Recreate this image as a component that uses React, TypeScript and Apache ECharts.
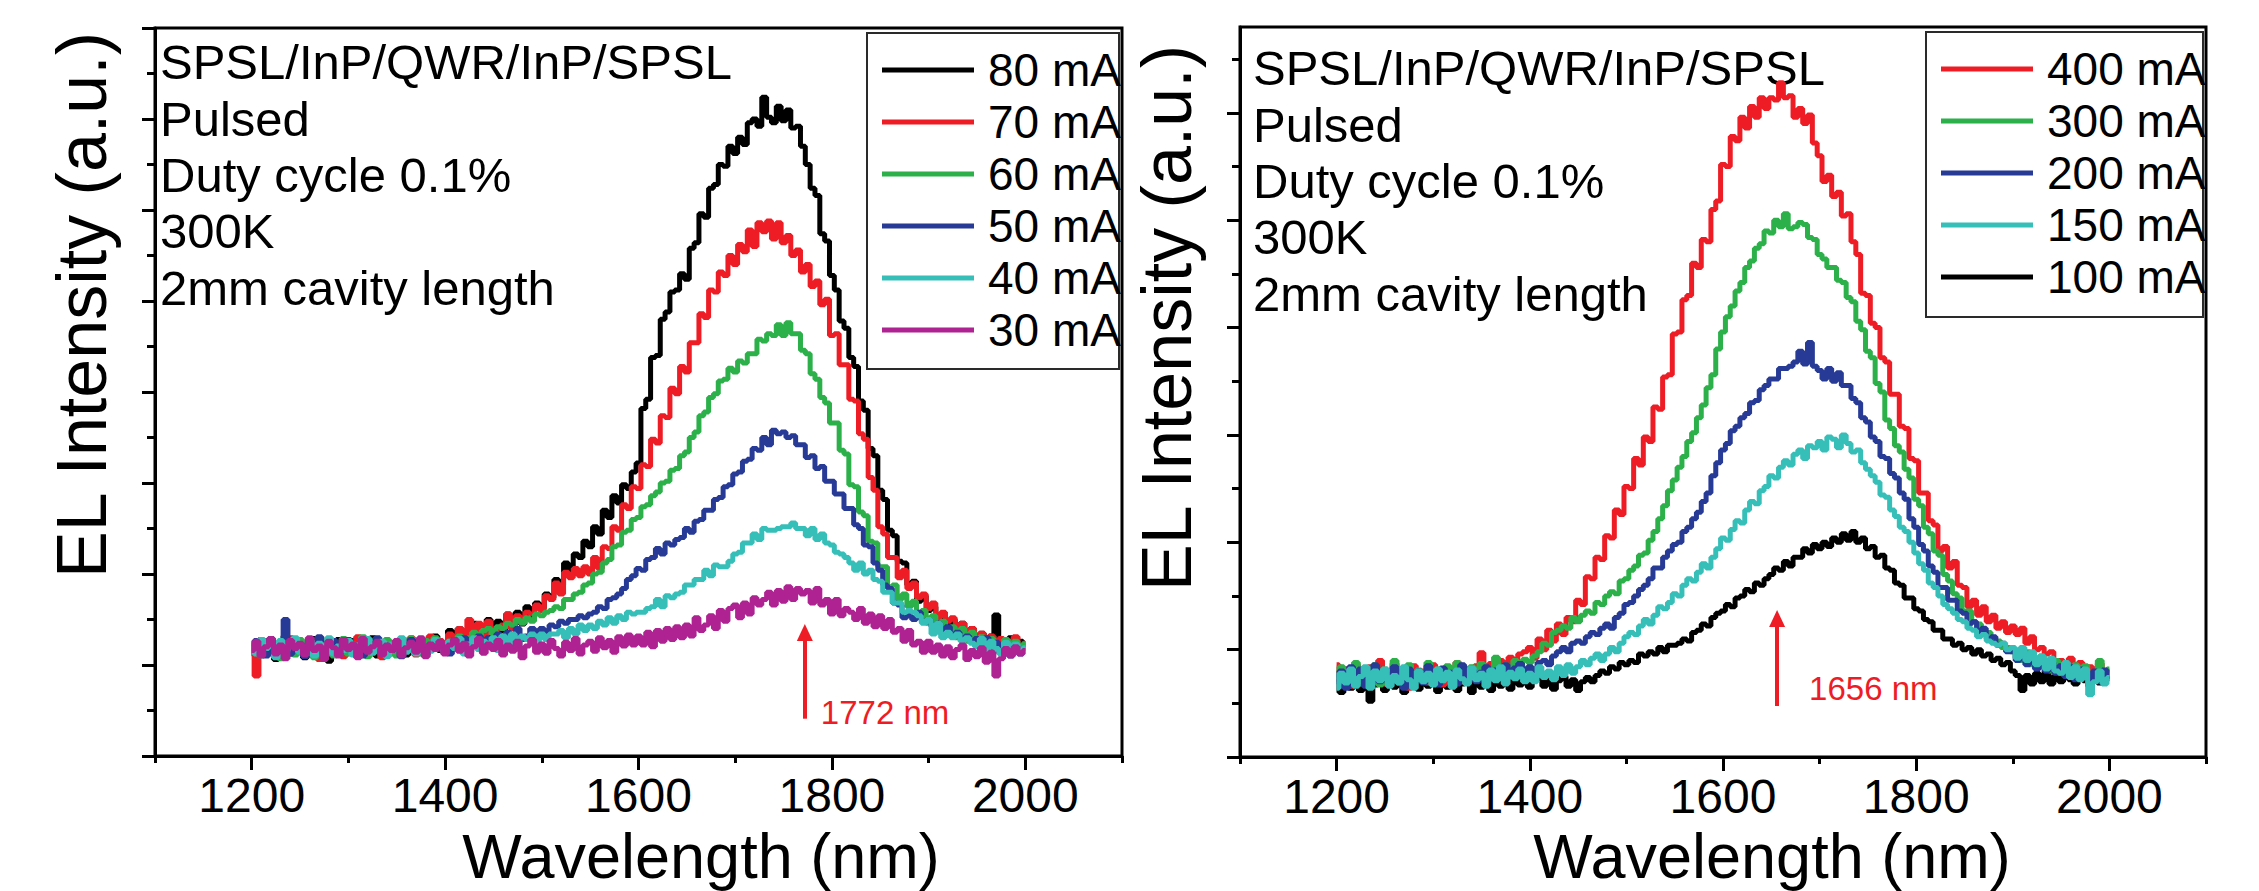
import { useEffect, useRef } from 'react';
import * as echarts from 'echarts';

// Spectra are sampled every 5 nm from 1200 nm to 2000 nm.
const LAMBDA_START = 1200;
const LAMBDA_STEP = 5;

// ---- Left panel: 2 mm cavity, low drive currents ----
const LEFT_NAMES = ['80 mA', '70 mA', '60 mA', '50 mA', '40 mA', '30 mA'];

const L_80MA = [
  1.22, 1.10, 1.28, 1.15, 1.20, 1.06, 1.25, 1.32, 1.12, 1.18,
  1.26, 1.08, 1.20, 1.29, 1.13, 1.19, 1.04, 1.22, 1.28, 1.12,
  1.18, 1.27, 1.09, 1.21, 1.16, 1.30, 1.10, 1.20, 1.26, 1.13,
  1.19, 1.29, 1.11, 1.22, 1.15, 1.28, 1.12, 1.23, 1.32, 1.16,
  1.24, 1.38, 1.18, 1.40, 1.26, 1.36, 1.46, 1.28, 1.42, 1.50,
  1.32, 1.48, 1.38, 1.56, 1.40, 1.58, 1.45, 1.64, 1.52, 1.68,
  1.62, 1.78, 1.74, 1.94, 1.88, 2.12, 1.98, 2.22, 2.18, 2.36,
  2.30, 2.52, 2.44, 2.70, 2.62, 2.86, 2.78, 2.98, 2.94, 3.12,
  3.22, 3.82, 3.92, 4.38, 4.40, 4.80, 4.88, 5.10, 5.12, 5.30,
  5.24, 5.58, 5.64, 5.96, 5.92, 6.24, 6.28, 6.50, 6.48, 6.70,
  6.62, 6.80, 6.72, 6.96, 7.00, 6.92, 7.24, 7.02, 6.96, 7.14,
  6.98, 7.10, 6.90, 6.92, 6.70, 6.50, 6.24, 6.16, 5.74, 5.66,
  5.28, 5.12, 4.78, 4.70, 4.38, 4.28, 3.90, 3.80, 3.38, 3.30,
  2.92, 2.82, 2.48, 2.42, 2.14, 2.12, 1.88, 1.92, 1.70, 1.76,
  1.60, 1.64, 1.48, 1.56, 1.44, 1.50, 1.32, 1.46, 1.28, 1.40,
  1.26, 1.35, 1.22, 1.32, 1.55, 1.24, 1.18, 1.30, 1.16, 1.26,
  1.22,
];

const L_70MA = [
  1.20, 0.88, 1.22, 1.12, 1.28, 1.17, 1.08, 1.23, 1.30, 1.14,
  1.19, 1.10, 1.27, 1.18, 1.06, 1.22, 1.29, 1.15, 1.20, 1.09,
  1.24, 1.15, 1.31, 1.12, 1.21, 1.17, 1.28, 1.08, 1.22, 1.19,
  1.13, 1.27, 1.20, 1.30, 1.11, 1.22, 1.16, 1.32, 1.20, 1.27,
  1.22, 1.34, 1.20, 1.40, 1.26, 1.50, 1.30, 1.46, 1.32, 1.48,
  1.34, 1.40, 1.44, 1.56, 1.40, 1.54, 1.50, 1.58, 1.56, 1.66,
  1.60, 1.76, 1.72, 1.90, 1.78, 2.02, 1.96, 2.06, 1.98, 2.08,
  2.00, 2.18, 2.06, 2.30, 2.28, 2.52, 2.48, 2.76, 2.72, 2.96,
  2.94, 3.20, 3.18, 3.48, 3.44, 3.74, 3.72, 4.04, 3.98, 4.28,
  4.22, 4.54, 4.54, 4.86, 4.82, 5.12, 5.10, 5.32, 5.28, 5.50,
  5.40, 5.62, 5.54, 5.78, 5.60, 5.86, 5.76, 5.88, 5.68, 5.86,
  5.64, 5.72, 5.50, 5.56, 5.32, 5.40, 5.16, 5.22, 4.96, 5.02,
  4.62, 4.64, 4.30, 4.30, 3.92, 3.90, 3.54, 3.48, 3.06, 2.92,
  2.52, 2.44, 2.18, 2.18, 1.96, 2.04, 1.84, 1.90, 1.74, 1.78,
  1.62, 1.68, 1.52, 1.58, 1.48, 1.52, 1.40, 1.46, 1.36, 1.40,
  1.28, 1.35, 1.24, 1.32, 1.20, 1.29, 1.18, 1.26, 1.31, 1.16,
  1.24,
];

const L_60MA = [
  1.18, 1.26, 1.10, 1.27, 1.14, 1.21, 1.07, 1.25, 1.19, 1.11,
  1.28, 1.14, 1.22, 1.08, 1.30, 1.18, 1.24, 1.10, 1.20, 1.29,
  1.12, 1.23, 1.16, 1.31, 1.09, 1.25, 1.19, 1.13, 1.28, 1.20,
  1.10, 1.24, 1.17, 1.29, 1.21, 1.12, 1.27, 1.18, 1.30, 1.21,
  1.17, 1.26, 1.22, 1.32, 1.26, 1.30, 1.36, 1.30, 1.38, 1.40,
  1.34, 1.42, 1.40, 1.46, 1.44, 1.50, 1.46, 1.52, 1.48, 1.56,
  1.54, 1.58, 1.60, 1.64, 1.62, 1.72, 1.72, 1.78, 1.80, 1.88,
  1.90, 2.00, 2.02, 2.12, 2.16, 2.30, 2.32, 2.46, 2.48, 2.60,
  2.62, 2.74, 2.76, 2.86, 2.90, 3.00, 3.02, 3.14, 3.16, 3.30,
  3.34, 3.50, 3.56, 3.74, 3.78, 3.94, 3.98, 4.12, 4.14, 4.26,
  4.22, 4.34, 4.32, 4.42, 4.42, 4.58, 4.56, 4.64, 4.62, 4.74,
  4.62, 4.76, 4.64, 4.64, 4.46, 4.42, 4.20, 4.14, 3.94, 3.88,
  3.66, 3.66, 3.36, 3.32, 2.98, 2.96, 2.68, 2.64, 2.36, 2.34,
  2.08, 2.08, 1.86, 1.88, 1.72, 1.78, 1.64, 1.70, 1.54, 1.60,
  1.46, 1.54, 1.40, 1.48, 1.34, 1.42, 1.30, 1.40, 1.26, 1.36,
  1.24, 1.31, 1.20, 1.29, 1.22, 1.17, 1.28, 1.19, 1.26, 1.16,
  1.23,
];

const L_50MA = [
  1.15, 1.27, 1.20, 1.10, 1.29, 1.18, 1.22, 1.50, 1.12, 1.26,
  1.19, 1.09, 1.25, 1.16, 1.31, 1.12, 1.21, 1.27, 1.13, 1.22,
  1.28, 1.14, 1.20, 1.10, 1.26, 1.19, 1.30, 1.12, 1.22, 1.16,
  1.25, 1.09, 1.21, 1.28, 1.15, 1.23, 1.11, 1.20, 1.27, 1.17,
  1.22, 1.12, 1.28, 1.18, 1.30, 1.14, 1.26, 1.32, 1.18, 1.30,
  1.20, 1.34, 1.24, 1.36, 1.26, 1.40, 1.28, 1.32, 1.40, 1.28,
  1.40, 1.36, 1.44, 1.42, 1.48, 1.46, 1.50, 1.50, 1.54, 1.52,
  1.56, 1.58, 1.64, 1.62, 1.72, 1.74, 1.78, 1.84, 1.94, 1.98,
  2.06, 2.04, 2.16, 2.18, 2.28, 2.22, 2.34, 2.32, 2.38, 2.40,
  2.50, 2.46, 2.58, 2.60, 2.70, 2.70, 2.82, 2.84, 2.96, 2.98,
  3.10, 3.12, 3.24, 3.26, 3.38, 3.36, 3.50, 3.42, 3.58, 3.54,
  3.56, 3.50, 3.52, 3.42, 3.42, 3.28, 3.30, 3.16, 3.18, 3.02,
  3.02, 2.88, 2.88, 2.72, 2.72, 2.54, 2.50, 2.32, 2.30, 2.12,
  2.04, 1.88, 1.84, 1.68, 1.66, 1.52, 1.54, 1.50, 1.58, 1.48,
  1.50, 1.42, 1.46, 1.34, 1.42, 1.32, 1.36, 1.30, 1.32, 1.26,
  1.29, 1.20, 1.30, 1.16, 1.25, 1.13, 1.22, 1.10, 1.20, 1.12,
  1.16,
];

const L_40MA = [
  1.21, 1.12, 1.28, 1.18, 1.24, 1.08, 1.27, 1.15, 1.22, 1.30,
  1.14, 1.20, 1.27, 1.10, 1.24, 1.18, 1.30, 1.12, 1.21, 1.16,
  1.27, 1.11, 1.22, 1.17, 1.29, 1.13, 1.20, 1.26, 1.09, 1.23,
  1.18, 1.30, 1.14, 1.22, 1.12, 1.26, 1.19, 1.15, 1.28, 1.21,
  1.14, 1.26, 1.18, 1.29, 1.12, 1.23, 1.30, 1.17, 1.26, 1.20,
  1.30, 1.16, 1.32, 1.20, 1.34, 1.22, 1.32, 1.28, 1.34, 1.24,
  1.34, 1.28, 1.34, 1.34, 1.38, 1.30, 1.40, 1.34, 1.44, 1.38,
  1.44, 1.40, 1.48, 1.44, 1.52, 1.46, 1.54, 1.50, 1.58, 1.56,
  1.58, 1.58, 1.62, 1.64, 1.72, 1.64, 1.76, 1.74, 1.78, 1.80,
  1.88, 1.88, 1.94, 1.94, 2.04, 1.98, 2.10, 2.08, 2.08, 2.14,
  2.22, 2.24, 2.34, 2.34, 2.44, 2.38, 2.50, 2.48, 2.48, 2.50,
  2.52, 2.52, 2.56, 2.50, 2.50, 2.42, 2.50, 2.38, 2.44, 2.34,
  2.32, 2.24, 2.22, 2.18, 2.12, 2.04, 2.12, 2.00, 2.04, 1.94,
  1.92, 1.80, 1.80, 1.68, 1.68, 1.58, 1.60, 1.58, 1.54, 1.46,
  1.50, 1.34, 1.46, 1.30, 1.36, 1.30, 1.34, 1.26, 1.30, 1.24,
  1.20, 1.29, 1.16, 1.26, 1.18, 1.12, 1.25, 1.15, 1.23, 1.13,
  1.19,
];

const L_30MA = [
  1.16, 1.26, 1.10, 1.20, 1.29, 1.12, 1.22, 1.07, 1.27, 1.18,
  1.24, 1.11, 1.30, 1.16, 1.21, 1.06, 1.26, 1.19, 1.10, 1.28,
  1.17, 1.23, 1.08, 1.29, 1.14, 1.20, 1.26, 1.11, 1.22, 1.16,
  1.27, 1.10, 1.19, 1.25, 1.14, 1.30, 1.09, 1.23, 1.17, 1.26,
  1.12, 1.22, 1.28, 1.15, 1.24, 1.10, 1.20, 1.29, 1.13, 1.23,
  1.17, 1.27, 1.11, 1.22, 1.15, 1.26, 1.08, 1.21, 1.28, 1.14,
  1.23, 1.13, 1.27, 1.18, 1.10, 1.25, 1.16, 1.29, 1.12, 1.22,
  1.26, 1.15, 1.30, 1.19, 1.27, 1.14, 1.31, 1.21, 1.33, 1.22,
  1.32, 1.22, 1.36, 1.20, 1.38, 1.26, 1.40, 1.28, 1.42, 1.30,
  1.44, 1.32, 1.52, 1.38, 1.44, 1.54, 1.40, 1.60, 1.48, 1.62,
  1.66, 1.52, 1.68, 1.56, 1.74, 1.66, 1.72, 1.80, 1.66, 1.82,
  1.70, 1.86, 1.72, 1.84, 1.78, 1.82, 1.68, 1.84, 1.66, 1.72,
  1.56, 1.72, 1.54, 1.62, 1.58, 1.50, 1.62, 1.46, 1.56, 1.42,
  1.54, 1.40, 1.50, 1.36, 1.40, 1.26, 1.38, 1.22, 1.26, 1.14,
  1.26, 1.14, 1.22, 1.10, 1.20, 1.08, 1.17, 1.22, 1.06, 1.16,
  1.09, 1.19, 1.03, 1.14, 0.88, 1.07, 1.18, 1.10, 1.20, 1.12,
  1.16,
];

// ---- Right panel: higher drive currents ----
const RIGHT_NAMES = ['400 mA', '300 mA', '200 mA', '150 mA', '100 mA'];

const R_400MA = [
  0.86, 0.70, 0.82, 0.66, 0.86, 0.75, 0.68, 0.84, 0.72, 0.90,
  0.68, 0.80, 0.87, 0.70, 0.82, 0.64, 0.85, 0.74, 0.80, 0.69,
  0.86, 0.76, 0.67, 0.83, 0.72, 0.88, 0.70, 0.82, 0.75, 0.85,
  0.97, 0.76, 0.87, 0.72, 0.90, 0.79, 0.93, 0.82, 0.96, 0.98,
  1.02, 0.92, 1.10, 1.00, 1.18, 1.08, 1.24, 1.14, 1.30, 1.26,
  1.46, 1.42, 1.68, 1.66, 1.86, 1.84, 2.06, 2.04, 2.30, 2.26,
  2.52, 2.50, 2.78, 2.72, 2.98, 2.94, 3.26, 3.24, 3.54, 3.56,
  3.94, 3.96, 4.26, 4.30, 4.60, 4.56, 4.82, 4.80, 5.10, 5.18,
  5.52, 5.50, 5.78, 5.74, 5.96, 5.86, 6.06, 5.96, 6.14, 6.04,
  6.14, 6.12, 6.28, 6.14, 6.16, 5.96, 6.04, 5.90, 5.98, 5.72,
  5.60, 5.36, 5.42, 5.22, 5.26, 5.04, 5.06, 4.80, 4.68, 4.32,
  4.30, 4.04, 4.00, 3.72, 3.68, 3.38, 3.38, 3.08, 3.06, 2.78,
  2.76, 2.46, 2.46, 2.20, 2.16, 1.92, 1.96, 1.76, 1.82, 1.60,
  1.58, 1.40, 1.46, 1.32, 1.40, 1.26, 1.32, 1.20, 1.26, 1.16,
  1.22, 1.14, 1.20, 1.06, 1.12, 1.00, 1.02, 0.96, 0.98, 0.86,
  0.90, 0.82, 0.92, 0.78, 0.88, 0.74, 0.84, 0.72, 0.87, 0.76,
  0.80,
];

const R_300MA = [
  0.74, 0.84, 0.68, 0.78, 0.88, 0.70, 0.82, 0.75, 0.86, 0.67,
  0.82, 0.73, 0.90, 0.69, 0.80, 0.86, 0.71, 0.81, 0.76, 0.88,
  0.70, 0.82, 0.74, 0.85, 0.68, 0.88, 0.77, 0.72, 0.84, 0.76,
  0.87, 0.71, 0.82, 0.93, 0.75, 0.86, 0.79, 0.90, 0.82, 0.91,
  0.88, 0.94, 0.98, 1.06, 1.04, 1.16, 1.18, 1.22, 1.20, 1.30,
  1.26, 1.32, 1.36, 1.34, 1.44, 1.42, 1.50, 1.54, 1.52, 1.64,
  1.66, 1.74, 1.78, 1.88, 1.90, 2.02, 2.10, 2.22, 2.34, 2.48,
  2.58, 2.70, 2.80, 2.94, 3.02, 3.16, 3.28, 3.44, 3.56, 3.80,
  3.96, 4.10, 4.20, 4.34, 4.42, 4.56, 4.62, 4.74, 4.78, 4.90,
  4.88, 5.00, 4.94, 5.06, 4.92, 4.94, 4.98, 4.96, 4.84, 4.82,
  4.68, 4.64, 4.56, 4.56, 4.44, 4.42, 4.28, 4.24, 4.06, 3.98,
  3.78, 3.72, 3.48, 3.40, 3.14, 3.06, 2.90, 2.84, 2.68, 2.60,
  2.40, 2.34, 2.14, 2.08, 1.92, 1.88, 1.70, 1.64, 1.52, 1.48,
  1.36, 1.36, 1.26, 1.24, 1.16, 1.16, 1.08, 1.08, 1.02, 1.02,
  0.98, 0.92, 0.90, 0.98, 0.86, 0.84, 0.94, 0.84, 0.80, 0.90,
  0.78, 0.87, 0.76, 0.86, 0.74, 0.85, 0.78, 0.72, 0.90, 0.79,
  0.82,
];

const R_200MA = [
  0.70, 0.80, 0.64, 0.84, 0.73, 0.82, 0.66, 0.77, 0.86, 0.70,
  0.79, 0.68, 0.84, 0.74, 0.64, 0.82, 0.72, 0.80, 0.69, 0.85,
  0.76, 0.67, 0.83, 0.73, 0.79, 0.68, 0.86, 0.74, 0.81, 0.70,
  0.79, 0.84, 0.72, 0.81, 0.75, 0.86, 0.77, 0.83, 0.87, 0.79,
  0.84, 0.80, 0.88, 0.90, 0.86, 0.94, 0.98, 1.02, 0.98, 1.06,
  1.08, 1.06, 1.12, 1.16, 1.14, 1.20, 1.24, 1.20, 1.30, 1.34,
  1.42, 1.44, 1.50, 1.56, 1.60, 1.66, 1.76, 1.76, 1.86, 1.92,
  1.98, 2.00, 2.10, 2.14, 2.22, 2.28, 2.38, 2.46, 2.62, 2.74,
  2.86, 2.92, 3.04, 3.08, 3.16, 3.20, 3.30, 3.32, 3.42, 3.46,
  3.52, 3.52, 3.62, 3.62, 3.64, 3.68, 3.78, 3.66, 3.86, 3.64,
  3.60, 3.52, 3.62, 3.50, 3.58, 3.46, 3.46, 3.34, 3.30, 3.16,
  3.12, 2.98, 2.94, 2.80, 2.78, 2.64, 2.60, 2.46, 2.40, 2.22,
  2.14, 1.98, 1.92, 1.78, 1.72, 1.58, 1.58, 1.46, 1.46, 1.36,
  1.34, 1.24, 1.26, 1.16, 1.20, 1.10, 1.12, 1.04, 1.06, 0.98,
  0.98, 0.90, 0.96, 0.86, 0.92, 0.82, 0.90, 0.80, 0.88, 0.78,
  0.85, 0.75, 0.84, 0.72, 0.82, 0.74, 0.68, 0.80, 0.70, 0.81,
  0.75,
];

const R_150MA = [
  0.64, 0.78, 0.69, 0.82, 0.66, 0.75, 0.84, 0.64, 0.80, 0.71,
  0.82, 0.66, 0.76, 0.69, 0.84, 0.72, 0.64, 0.80, 0.70, 0.78,
  0.67, 0.82, 0.71, 0.79, 0.65, 0.81, 0.73, 0.68, 0.83, 0.72,
  0.78, 0.66, 0.81, 0.71, 0.84, 0.68, 0.79, 0.73, 0.82, 0.70,
  0.78, 0.70, 0.84, 0.74, 0.80, 0.72, 0.84, 0.76, 0.86, 0.78,
  0.84, 0.90, 0.86, 0.92, 0.96, 0.90, 0.96, 1.02, 0.98, 1.06,
  1.12, 1.16, 1.14, 1.22, 1.28, 1.24, 1.32, 1.40, 1.38, 1.44,
  1.52, 1.50, 1.60, 1.66, 1.64, 1.72, 1.80, 1.76, 1.86, 1.94,
  2.04, 2.02, 2.12, 2.20, 2.18, 2.30, 2.38, 2.36, 2.48, 2.52,
  2.62, 2.60, 2.70, 2.76, 2.72, 2.82, 2.86, 2.78, 2.90, 2.88,
  2.94, 2.86, 2.98, 2.96, 2.88, 3.00, 2.92, 2.84, 2.86, 2.74,
  2.68, 2.62, 2.56, 2.44, 2.42, 2.30, 2.24, 2.14, 2.10, 2.00,
  1.90, 1.80, 1.74, 1.62, 1.58, 1.50, 1.42, 1.38, 1.34, 1.28,
  1.26, 1.20, 1.18, 1.12, 1.14, 1.08, 1.06, 1.04, 1.06, 1.00,
  1.02, 0.92, 1.02, 0.90, 0.98, 0.86, 0.94, 0.82, 0.92, 0.80,
  0.78, 0.88, 0.74, 0.84, 0.72, 0.82, 0.58, 0.70, 0.80, 0.68,
  0.74,
];

const R_100MA = [
  0.70, 0.60, 0.75, 0.64, 0.73, 0.62, 0.71, 0.52, 0.67, 0.76,
  0.62, 0.72, 0.65, 0.75, 0.60, 0.70, 0.74, 0.63, 0.71, 0.66,
  0.73, 0.61, 0.71, 0.65, 0.75, 0.62, 0.68, 0.74, 0.60, 0.71,
  0.65, 0.74, 0.62, 0.71, 0.66, 0.75, 0.63, 0.72, 0.67, 0.73,
  0.65, 0.71, 0.75, 0.66, 0.73, 0.63, 0.71, 0.75, 0.66, 0.72,
  0.62, 0.70, 0.74, 0.70, 0.76, 0.80, 0.78, 0.84, 0.82, 0.88,
  0.86, 0.90, 0.88, 0.96, 0.94, 0.98, 0.96, 1.02, 0.98, 1.04,
  1.04, 1.06, 1.10, 1.08, 1.16, 1.18, 1.24, 1.22, 1.30, 1.34,
  1.36, 1.42, 1.40, 1.48, 1.50, 1.56, 1.54, 1.62, 1.60, 1.66,
  1.70, 1.76, 1.74, 1.82, 1.78, 1.86, 1.86, 1.94, 1.90, 1.98,
  1.94, 2.00, 1.96, 2.04, 2.00, 2.08, 2.02, 2.10, 2.00, 2.04,
  1.94, 1.96, 1.86, 1.88, 1.76, 1.74, 1.62, 1.60, 1.48, 1.48,
  1.38, 1.36, 1.28, 1.26, 1.18, 1.18, 1.10, 1.10, 1.04, 1.06,
  1.00, 1.02, 0.96, 1.00, 0.94, 0.96, 0.90, 0.92, 0.86, 0.88,
  0.80, 0.76, 0.62, 0.76, 0.68, 0.78, 0.70, 0.80, 0.68, 0.76,
  0.70, 0.79, 0.72, 0.68, 0.78, 0.71, 0.66, 0.77, 0.69, 0.75,
  0.73,
];

// Axis ticks
const X_MAJOR_TICKS = [1200, 1400, 1600, 1800, 2000];
const X_MINOR_TICKS = [1100, 1300, 1500, 1700, 1900, 2100];
const LEFT_Y_MAJOR = [0, 1, 2, 3, 4, 5, 6, 7, 8];
const LEFT_Y_MINOR = [0.5, 1.5, 2.5, 3.5, 4.5, 5.5, 6.5, 7.5];
const RIGHT_Y_MAJOR = [0, 1, 2, 3, 4, 5, 6];
const RIGHT_Y_MINOR = [0.5, 1.5, 2.5, 3.5, 4.5, 5.5, 6.5];

// Peak positions marked by arrows
const LEFT_PEAK_NM = 1772;
const RIGHT_PEAK_NM = 1656;

const CONDITIONS = ['SPSL/InP/QWR/InP/SPSL', 'Pulsed', 'Duty cycle 0.1%', '300K', '2mm cavity length'];

const BLACK = '#000000';
const RED = '#ee1d25';
const GREEN = '#2bb04a';
const BLUE = '#263a96';
const CYAN = '#36bfb9';
const PURPLE = '#ae2391';

const FONT = '"Liberation Sans", Arial, Helvetica, sans-serif';

function spectrum(values: number[]): [number, number][] {
  return values.map((v, i) => [LAMBDA_START + i * LAMBDA_STEP, v]);
}

function lineSeries(name: string, color: string, values: number[], axisIdx: number, extra: any = {}) {
  return {
    type: 'line',
    name,
    xAxisIndex: axisIdx * 2,
    yAxisIndex: axisIdx * 2,
    data: spectrum(values),
    showSymbol: false,
    symbol: 'none',
    step: 'middle',
    color,
    itemStyle: { color },
    lineStyle: { color, width: 5 },
    emphasis: { disabled: true },
    silent: true,
    ...extra,
  };
}

// Vertical arrow (shaft + triangular head) and its wavelength label.
function peakMarks(peak: number, yBottom: number, yHead: number, yLabel: number, labelGap: number) {
  return {
    markLine: {
      silent: true,
      symbol: ['none', 'none'],
      lineStyle: { color: RED, width: 4, type: 'solid' },
      label: { show: false },
      emphasis: { disabled: true },
      data: [[{ coord: [peak, yBottom] }, { coord: [peak, yHead] }]],
    },
    markPoint: {
      silent: true,
      emphasis: { disabled: true },
      data: [
        {
          coord: [peak, yHead],
          symbol: 'triangle',
          symbolSize: [16, 17],
          itemStyle: { color: RED },
          label: { show: false },
        },
        {
          coord: [peak, yLabel],
          symbol: 'circle',
          symbolSize: 0,
          itemStyle: { color: 'transparent' },
          label: {
            show: true,
            position: 'right',
            distance: labelGap,
            formatter: `${peak} nm`,
            color: RED,
            fontSize: 33,
            fontFamily: FONT,
          },
        },
      ],
    },
  };
}

const axisLineStyle = { color: BLACK, width: 3 };

function xAxes(gridIndex: number) {
  return [
    {
      type: 'value',
      gridIndex,
      min: 1100,
      max: 2100,
      position: 'bottom',
      axisLine: { show: true, onZero: false, lineStyle: axisLineStyle },
      axisTick: { show: true, length: 14, lineStyle: axisLineStyle, customValues: X_MAJOR_TICKS },
      axisLabel: {
        show: true,
        customValues: X_MAJOR_TICKS,
        formatter: (v: number) => String(v),
        margin: 15,
        fontSize: 48,
        lineHeight: 48,
        color: BLACK,
        fontFamily: FONT,
      },
      splitLine: { show: false },
    },
    {
      type: 'value',
      gridIndex,
      min: 1100,
      max: 2100,
      position: 'bottom',
      axisLine: { show: false },
      axisTick: { show: true, length: 7, lineStyle: axisLineStyle, customValues: X_MINOR_TICKS },
      axisLabel: { show: false },
      splitLine: { show: false },
    },
  ];
}

function yAxes(gridIndex: number, max: number, major: number[], minor: number[]) {
  return [
    {
      type: 'value',
      gridIndex,
      min: 0,
      max,
      position: 'left',
      axisLine: { show: true, onZero: false, lineStyle: axisLineStyle },
      axisTick: { show: true, length: 13, lineStyle: axisLineStyle, customValues: major },
      axisLabel: { show: false },
      splitLine: { show: false },
    },
    {
      type: 'value',
      gridIndex,
      min: 0,
      max,
      position: 'left',
      axisLine: { show: false },
      axisTick: { show: true, length: 8, lineStyle: axisLineStyle, customValues: minor },
      axisLabel: { show: false },
      splitLine: { show: false },
    },
  ];
}

function legendFor(names: string[], left: number, top: number) {
  return {
    orient: 'vertical',
    left,
    top,
    padding: 0,
    itemWidth: 92,
    itemHeight: 5,
    itemGap: 6,
    icon: 'rect',
    selectedMode: false,
    data: names,
    textStyle: { fontSize: 46, lineHeight: 46, color: BLACK, fontFamily: FONT, padding: [0, 0, 0, 9] },
  };
}

function conditionsText(x: number, top: number) {
  return {
    type: 'text',
    x,
    y: top,
    silent: true,
    style: {
      text: CONDITIONS.join('\n'),
      fontSize: 49,
      lineHeight: 56.3,
      fontFamily: FONT,
      fill: BLACK,
      textAlign: 'left',
      textVerticalAlign: 'top',
    },
  };
}

function xTitle(x: number) {
  return {
    type: 'text',
    x,
    y: 856,
    silent: true,
    style: {
      text: 'Wavelength (nm)',
      fontSize: 63,
      lineHeight: 63,
      fontFamily: FONT,
      fill: BLACK,
      textAlign: 'center',
      textVerticalAlign: 'middle',
    },
  };
}

function yTitle(x: number, y: number) {
  return {
    type: 'text',
    x,
    y,
    rotation: Math.PI / 2,
    silent: true,
    style: {
      text: 'EL Intensity (a.u.)',
      fontSize: 70,
      fontFamily: FONT,
      fill: BLACK,
      textAlign: 'center',
      textVerticalAlign: 'middle',
    },
  };
}

function legendBox(x: number, y: number, width: number, height: number) {
  return {
    type: 'rect',
    silent: true,
    shape: { x, y, width, height },
    style: { fill: 'none', stroke: '#2a2a2a', lineWidth: 2 },
    z: -1,
  };
}

export default function App() {
  const ref = useRef<HTMLDivElement>(null);

  useEffect(() => {
    if (!ref.current) return;
    const chart = echarts.init(ref.current, null, { renderer: 'svg' });

    const option: any = {
      animation: false,
      backgroundColor: '#ffffff',
      textStyle: { fontFamily: FONT },
      grid: [
        { left: 155, top: 28, width: 967, height: 728, show: true, borderColor: BLACK, borderWidth: 3, backgroundColor: 'transparent' },
        { left: 1240, top: 27, width: 966, height: 730, show: true, borderColor: BLACK, borderWidth: 3, backgroundColor: 'transparent' },
      ],
      xAxis: [...xAxes(0), ...xAxes(1)],
      yAxis: [
        ...yAxes(0, 8, LEFT_Y_MAJOR, LEFT_Y_MINOR),
        ...yAxes(1, 6.8, RIGHT_Y_MAJOR, RIGHT_Y_MINOR),
      ],
      legend: [legendFor(LEFT_NAMES, 882, 47), legendFor(RIGHT_NAMES, 1941, 46)],
      series: [
        lineSeries('80 mA', BLACK, L_80MA, 0),
        lineSeries('70 mA', RED, L_70MA, 0),
        lineSeries('60 mA', GREEN, L_60MA, 0),
        lineSeries('50 mA', BLUE, L_50MA, 0),
        lineSeries('40 mA', CYAN, L_40MA, 0),
        lineSeries('30 mA', PURPLE, L_30MA, 0, peakMarks(LEFT_PEAK_NM, 0.41, 1.357, 0.48, 16)),
        lineSeries('100 mA', BLACK, R_100MA, 1, peakMarks(RIGHT_PEAK_NM, 0.475, 1.29, 0.64, 32)),
        lineSeries('400 mA', RED, R_400MA, 1),
        lineSeries('300 mA', GREEN, R_300MA, 1),
        lineSeries('200 mA', BLUE, R_200MA, 1),
        lineSeries('150 mA', CYAN, R_150MA, 1),
      ],
      graphic: [
        legendBox(867, 33, 252, 336),
        legendBox(1926, 32, 277, 285),
        conditionsText(160, 34.3),
        conditionsText(1253, 40.2),
        xTitle(701),
        xTitle(1772),
        yTitle(82, 305),
        yTitle(1167, 318),
      ],
    };

    chart.setOption(option);
    return () => chart.dispose();
  }, []);

  return (
    <div
      ref={ref}
      style={{ position: 'fixed', left: 0, top: 0, width: 2259, height: 891, background: '#ffffff' }}
    />
  );
}
